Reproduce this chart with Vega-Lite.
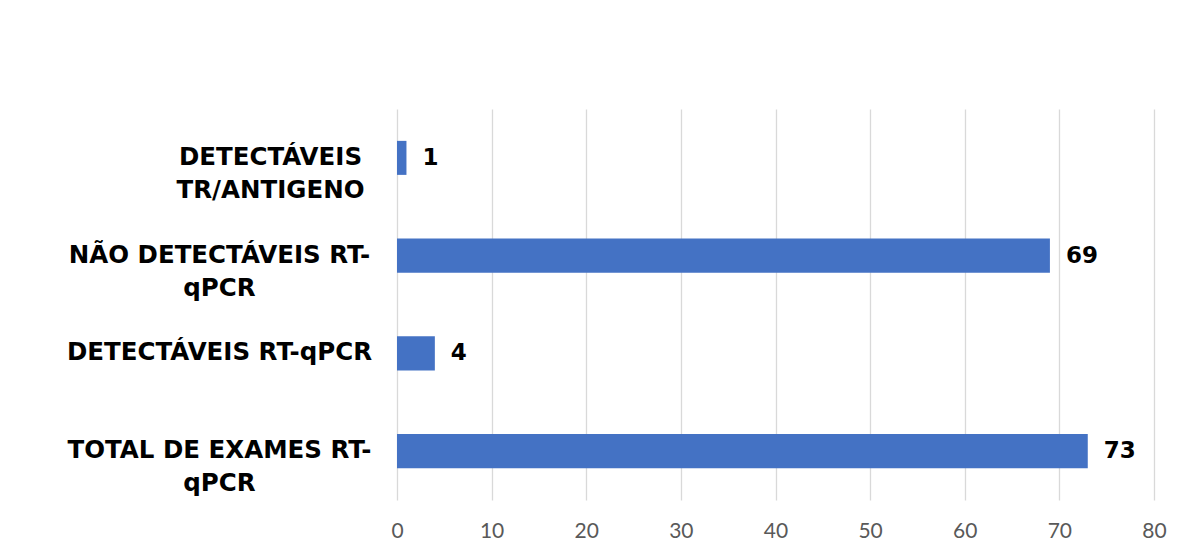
{
  "$schema": "https://vega.github.io/schema/vega-lite/v6.json",
  "width": 757,
  "height": 391,
  "autosize": {"type": "none"},
  "padding": {"left": 397, "top": 109, "right": 35, "bottom": 48},
  "background": "white",
  "data": {
    "values": [
      {"categoria": "DETECTÁVEIS TR/ANTIGENO", "valor": 1},
      {"categoria": "NÃO DETECTÁVEIS RT-qPCR", "valor": 69},
      {"categoria": "DETECTÁVEIS RT-qPCR", "valor": 4},
      {"categoria": "TOTAL DE EXAMES RT-qPCR", "valor": 73}
    ]
  },
  "encoding": {
    "y": {
      "field": "categoria",
      "type": "nominal",
      "sort": ["DETECTÁVEIS TR/ANTIGENO", "NÃO DETECTÁVEIS RT-qPCR", "DETECTÁVEIS RT-qPCR", "TOTAL DE EXAMES RT-qPCR"],
      "scale": {"paddingInner": 0.652, "paddingOuter": 0.326},
      "axis": {
        "title": null,
        "domain": false,
        "ticks": false,
        "grid": false,
        "labelFont": "DejaVu Sans",
        "labelFontWeight": "bold",
        "labelFontSize": 24.5,
        "labelColor": "#000000",
        "labelAlign": "center",
        "labelBaseline": "middle",
        "labelLineHeight": 33,
        "labelLimit": 0,
        "labelPadding": {"condition": {"test": "datum.value == 'DETECTÁVEIS TR/ANTIGENO'", "value": 127}, "value": 178},
        "labelExpr": "datum.value == 'NÃO DETECTÁVEIS RT-qPCR' ? ['NÃO DETECTÁVEIS RT-', 'qPCR'] : datum.value == 'TOTAL DE EXAMES RT-qPCR' ? ['TOTAL DE EXAMES RT-', 'qPCR'] : datum.value == 'DETECTÁVEIS TR/ANTIGENO' ? ['DETECTÁVEIS', 'TR/ANTIGENO'] : datum.label"
      }
    },
    "x": {
      "field": "valor",
      "type": "quantitative",
      "scale": {"domain": [0, 80], "nice": false},
      "axis": {
        "title": null,
        "values": [0, 10, 20, 30, 40, 50, 60, 70, 80],
        "domain": false,
        "ticks": false,
        "grid": true,
        "gridColor": "#d9d9d9",
        "gridWidth": 1.3,
        "labelFont": "Lato",
        "labelFontSize": 21,
        "labelColor": "#595959",
        "labelBaseline": "middle",
        "labelPadding": 31,
        "labelFlush": false
      }
    }
  },
  "layer": [
    {"mark": {"type": "bar", "color": "#4472C4"}},
    {
      "mark": {"type": "text", "align": "left", "baseline": "middle", "dx": 16, "font": "DejaVu Sans", "fontWeight": "bold", "fontSize": 23, "color": "#000000"},
      "encoding": {"text": {"field": "valor", "type": "quantitative"}}
    }
  ],
  "config": {"view": {"stroke": null}}
}
